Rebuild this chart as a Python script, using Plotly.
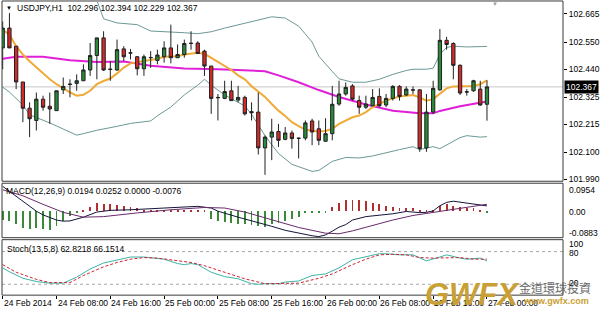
import plotly.graph_objects as go

W, H = 600, 313

# ---------------- data ----------------
hours = list(range(73))  # hourly bars from 24 Feb 2014 00:00
opens = [102.526, 102.607, 102.533, 102.387, 102.280, 102.230, 102.317, 102.288, 102.270, 102.355,
         102.377, 102.381, 102.392, 102.436, 102.495, 102.567, 102.440, 102.436, 102.522, 102.506,
         102.490, 102.441, 102.486, 102.475, 102.490, 102.526, 102.486, 102.499, 102.544, 102.546,
         102.513, 102.452, 102.324, 102.320, 102.351, 102.313, 102.324, 102.266, 102.264, 102.118,
         102.162, 102.185, 102.153, 102.179, 102.158, 102.158, 102.228, 102.196, 102.145, 102.176,
         102.297, 102.338, 102.371, 102.311, 102.284, 102.290, 102.328, 102.293, 102.320, 102.369,
         102.334, 102.355, 102.355, 102.118, 102.264, 102.355, 102.557, 102.544, 102.455, 102.347,
         102.351, 102.358, 102.296]
highs = [102.634, 102.668, 102.533, 102.387, 102.304, 102.344, 102.331, 102.344, 102.351, 102.405,
         102.398, 102.418, 102.459, 102.546, 102.567, 102.594, 102.472, 102.560, 102.533, 102.522,
         102.493, 102.499, 102.513, 102.519, 102.553, 102.621, 102.540, 102.560, 102.594, 102.553,
         102.519, 102.452, 102.338, 102.392, 102.392, 102.371, 102.331, 102.304, 102.344, 102.169,
         102.237, 102.216, 102.203, 102.189, 102.159, 102.230, 102.237, 102.230, 102.239, 102.371,
         102.392, 102.385, 102.378, 102.331, 102.331, 102.358, 102.361, 102.338, 102.374, 102.374,
         102.369, 102.369, 102.356, 102.338, 102.392, 102.603, 102.571, 102.549, 102.459, 102.358,
         102.396, 102.392, 102.394]
lows = [102.439, 102.526, 102.358, 102.223, 102.162, 102.189, 102.270, 102.216, 102.270, 102.338,
        102.324, 102.351, 102.392, 102.412, 102.398, 102.432, 102.392, 102.432, 102.472, 102.479,
        102.414, 102.412, 102.445, 102.459, 102.466, 102.463, 102.486, 102.486, 102.519, 102.503,
        102.412, 102.257, 102.230, 102.317, 102.311, 102.304, 102.250, 102.230, 102.091, 102.008,
        102.068, 102.122, 102.149, 102.115, 102.075, 102.149, 102.129, 102.129, 102.145, 102.149,
        102.290, 102.331, 102.311, 102.257, 102.277, 102.290, 102.284, 102.284, 102.311, 102.311,
        102.331, 102.338, 102.102, 102.102, 102.257, 102.351, 102.519, 102.398, 102.334, 102.331,
        102.347, 102.290, 102.229]
closes = [102.607, 102.526, 102.387, 102.280, 102.237, 102.317, 102.284, 102.277, 102.351, 102.369,
          102.378, 102.392, 102.436, 102.495, 102.567, 102.436, 102.438, 102.519, 102.490, 102.505,
          102.441, 102.490, 102.487, 102.497, 102.526, 102.486, 102.499, 102.544, 102.545, 102.503,
          102.452, 102.320, 102.323, 102.348, 102.311, 102.324, 102.257, 102.262, 102.118, 102.162,
          102.183, 102.149, 102.179, 102.156, 102.157, 102.220, 102.183, 102.149, 102.176, 102.296,
          102.338, 102.365, 102.317, 102.284, 102.297, 102.324, 102.290, 102.320, 102.369, 102.328,
          102.358, 102.354, 102.115, 102.264, 102.361, 102.557, 102.540, 102.455, 102.342, 102.346,
          102.392, 102.293, 102.367]

ma_fast = [102.600, 102.580, 102.533, 102.499, 102.472, 102.446, 102.422, 102.398, 102.378, 102.361,
           102.345, 102.331, 102.335, 102.351, 102.378, 102.391, 102.401, 102.422, 102.446, 102.463,
           102.468, 102.472, 102.479, 102.482, 102.490, 102.490, 102.492, 102.499, 102.503, 102.506,
           102.502, 102.486, 102.468, 102.452, 102.436, 102.414, 102.398, 102.370, 102.346, 102.326,
           102.297, 102.270, 102.248, 102.223, 102.207, 102.193, 102.188, 102.185, 102.187, 102.196,
           102.216, 102.230, 102.243, 102.250, 102.264, 102.284, 102.297, 102.311, 102.320, 102.328,
           102.331, 102.334, 102.324, 102.311, 102.317, 102.338, 102.361, 102.369, 102.369, 102.369,
           102.371, 102.378, 102.394]

ma_slow_x = [0, 2, 6, 10, 14, 18, 22, 25, 27, 32, 36, 39, 41, 44, 47, 50, 54, 58, 62, 64, 65, 68, 72]
ma_slow = [102.482, 102.490, 102.490, 102.476, 102.469, 102.471, 102.453, 102.446, 102.442, 102.439,
           102.433, 102.431, 102.414, 102.386, 102.354, 102.326, 102.295, 102.270, 102.259, 102.259,
           102.269, 102.288, 102.307]

bb_up_x = [14, 15, 17, 20, 22, 25, 27, 29, 31, 33, 36, 38, 40, 42, 44, 46, 47, 49, 50, 52, 54, 56, 58,
           60, 61, 63, 64, 65, 66, 67, 69, 72]
bb_up = [102.720, 102.645, 102.628, 102.621, 102.595, 102.592, 102.588, 102.584, 102.592, 102.607,
         102.627, 102.642, 102.653, 102.648, 102.615, 102.550, 102.492, 102.430, 102.400, 102.386,
         102.386, 102.398, 102.418, 102.434, 102.439, 102.439, 102.443, 102.500, 102.528, 102.533,
         102.530, 102.532]
bb_lo_x = [0, 1, 3, 4, 7, 10, 11, 12, 14, 17, 19, 22, 23, 25, 27, 29, 30, 31, 33, 36, 37, 39, 41, 43,
           46, 47, 49, 51, 53, 55, 57, 59, 61, 62, 64, 65, 68, 69, 71, 72]
bb_lo = [102.366, 102.346, 102.293, 102.253, 102.220, 102.180, 102.170, 102.176, 102.190, 102.206,
         102.218, 102.228, 102.249, 102.285, 102.334, 102.374, 102.398, 102.374, 102.334, 102.289,
         102.255, 102.168, 102.095, 102.051, 102.022, 102.026, 102.063, 102.079, 102.077, 102.085,
         102.099, 102.111, 102.123, 102.111, 102.123, 102.115, 102.160, 102.168, 102.162, 102.164]

macd_x = [0, 3, 5, 6, 8, 9, 10, 12, 14, 16, 19, 24, 29, 31, 32, 35, 37, 40, 42, 44, 46, 47, 48, 49,
          50, 51, 52, 54, 56, 58, 60, 62, 63, 64, 65, 66, 67, 69, 71, 72]
macd_main = [0.088, 0.035, 0.001, -0.012, -0.030, -0.034, -0.033, -0.020, -0.002, 0.004, 0.006, 0.012,
             0.018, 0.012, 0.001, -0.020, -0.032, -0.052, -0.066, -0.076, -0.085, -0.088, -0.082,
             -0.069, -0.055, -0.046, -0.030, -0.018, -0.013, -0.008, 0.000, -0.004, -0.003, 0.002,
             0.020, 0.032, 0.036, 0.030, 0.024, 0.0194]
sig_x = [0, 3, 6, 9, 12, 15, 20, 25, 30, 33, 36, 40, 44, 48, 50, 52, 55, 58, 61, 64, 67, 70, 72]
macd_signal = [0.076, 0.055, 0.025, -0.003, -0.020, -0.018, -0.005, 0.006, 0.014, 0.012, -0.002, -0.030,
               -0.056, -0.076, -0.078, -0.068, -0.048, -0.030, -0.014, -0.004, 0.008, 0.018, 0.0252]
macd_hist = [-0.032, -0.034, -0.043, -0.057, -0.063, -0.057, -0.063, -0.067, -0.052, -0.034,
             -0.017, -0.003, 0.003, 0.014, 0.030, 0.026, 0.024, 0.021, 0.018, 0.014,
             0.010, 0.006, 0.003, 0.003, 0.003, 0.003, 0.003, 0.003, 0.003, 0.003,
             0.003, -0.028, -0.034, -0.036, -0.040, -0.046, -0.046, -0.048, -0.052, -0.055,
             -0.043, -0.040, -0.034, -0.028, -0.020, -0.003, -0.003, -0.003, -0.003, 0.014,
             0.030, 0.038, 0.040, 0.038, 0.035, 0.030, 0.024, 0.018, 0.014, 0.012,
             0.010, 0.010, 0.003, 0.003, 0.003, 0.018, 0.026, 0.018, 0.014, 0.012,
             0.010, 0.003, -0.003]

stk_x = [0, 1, 3, 5, 7, 9, 11, 13, 15, 16, 18, 19, 21, 23, 24, 26, 27, 28, 29, 31, 33, 35, 37, 38, 39,
         41, 42, 44, 46, 48, 50, 52, 54, 56, 57, 59, 61, 63, 65, 66, 68, 69, 71, 72]
stoch_main = [50, 43, 31, 25, 22, 22, 33, 48, 59, 62, 67, 70, 70, 67, 66, 58, 56, 58, 56, 42, 34, 30, 21,
              20, 21, 21, 24, 26, 36, 39, 50, 65, 70, 76, 76, 74, 74, 63, 70, 74, 68, 66, 68, 62.8218]
sts_x = [0, 2, 5, 7, 10, 12, 15, 17, 19, 21, 23, 26, 28, 30, 33, 36, 39, 41, 44, 47, 49, 52, 54, 56, 58,
         60, 62, 64, 66, 68, 70, 72]
stoch_signal = [56, 42, 29, 23, 23, 36, 52, 60, 66, 69, 68, 63, 60, 54, 42, 30, 21, 21, 22, 31, 39, 56,
                66, 74, 75, 74, 69, 68, 69, 69, 66, 66.1514]
stoch_levels = [80, 20]

price_ticks = [101.990, 102.100, 102.215, 102.325, 102.440, 102.550, 102.665]
last_price = 102.367
time_ticks = [0, 8, 16, 24, 32, 40, 48, 56, 64, 72]
time_labels = ["24 Feb 2014", "24 Feb 08:00", "24 Feb 16:00", "25 Feb 00:00", "25 Feb 08:00",
               "25 Feb 16:00", "26 Feb 00:00", "26 Feb 08:00", "26 Feb 16:00", "27 Feb 00:00"]

# ---------------- layout helpers ----------------
FONT = "Liberation Sans, Arial, sans-serif"
FS = 8.5


def fx(px):
    return px / W


def fy(py):
    return 1 - py / H


PLOT_L, PLOT_R = 2, 563
PX_PER_BAR = 6.726
X0 = 2.7
xr = [(PLOT_L - X0) / PX_PER_BAR, (PLOT_R - X0) / PX_PER_BAR]

fig = go.Figure()

# main-panel lines (base subplot); candles on an overlay so they sit on top
fig.add_trace(go.Scatter(x=bb_up_x, y=bb_up, mode="lines", line=dict(color="#6b9896", width=1),
                         xaxis="x", yaxis="y", hoverinfo="skip"))
fig.add_trace(go.Scatter(x=bb_lo_x, y=bb_lo, mode="lines", line=dict(color="#6b9896", width=1),
                         xaxis="x", yaxis="y", hoverinfo="skip"))
fig.add_trace(go.Scatter(x=ma_slow_x, y=ma_slow, mode="lines", line=dict(color="#e020d8", width=2),
                         xaxis="x", yaxis="y", hoverinfo="skip"))
fig.add_trace(go.Scatter(x=hours, y=ma_fast, mode="lines", line=dict(color="#f0aa38", width=2),
                         xaxis="x", yaxis="y", hoverinfo="skip"))

fig.add_trace(go.Candlestick(
    x=hours, open=opens, high=highs, low=lows, close=closes,
    increasing=dict(line=dict(color="#202020", width=1), fillcolor="#2a8a3a"),
    decreasing=dict(line=dict(color="#202020", width=1), fillcolor="#d42a2a"),
    whiskerwidth=0, xaxis="x", yaxis="y4", hoverinfo="skip"))

# MACD panel
fig.add_trace(go.Bar(x=hours, y=macd_hist, width=0.13,
                     marker=dict(color=["#b03030" if v > 0 else "#3a8a3a" for v in macd_hist],
                                 line=dict(width=0)),
                     xaxis="x", yaxis="y2", hoverinfo="skip"))
fig.add_trace(go.Scatter(x=macd_x, y=macd_main, mode="lines", line=dict(color="#14143a", width=1),
                         xaxis="x", yaxis="y2", hoverinfo="skip"))
fig.add_trace(go.Scatter(x=sig_x, y=macd_signal, mode="lines", line=dict(color="#6a2a6a", width=1),
                         xaxis="x", yaxis="y2", hoverinfo="skip"))

# Stochastic panel
fig.add_trace(go.Scatter(x=stk_x, y=stoch_main, mode="lines", line=dict(color="#3cb4a8", width=1),
                         xaxis="x", yaxis="y3", hoverinfo="skip"))
fig.add_trace(go.Scatter(x=sts_x, y=stoch_signal, mode="lines",
                         line=dict(color="#d02030", width=1, dash="3px,2px"),
                         xaxis="x", yaxis="y3", hoverinfo="skip"))

main_range = [101.9819, 102.7135]
axis_common = dict(showgrid=False, zeroline=False, fixedrange=True)

fig.update_layout(
    width=W, height=H, margin=dict(l=0, r=0, t=0, b=0),
    paper_bgcolor="white", plot_bgcolor="white", showlegend=False,
    font=dict(family=FONT, size=FS, color="black"),
    xaxis=dict(domain=[fx(PLOT_L), fx(PLOT_R)], range=xr, anchor="y3",
               tickvals=time_ticks, ticktext=[""] * len(time_ticks), ticks="outside",
               ticklen=3, tickcolor="#000", showline=False, rangeslider=dict(visible=False),
               **axis_common),
    yaxis=dict(domain=[fy(183), fy(2)], range=main_range, anchor="x", side="right",
               tickvals=price_ticks, ticktext=["%.3f" % v for v in price_ticks],
               ticks="outside", ticklen=3, tickcolor="#000", showline=False, **axis_common),
    yaxis4=dict(range=main_range, overlaying="y", anchor="x", side="right", showticklabels=False,
                ticks="", **axis_common),
    yaxis2=dict(domain=[fy(240), fy(185)], range=[-0.0918, 0.0989], anchor="x", side="right",
                showticklabels=False, ticks="", **axis_common),
    yaxis3=dict(domain=[fy(298), fy(243)], range=[0, 100], anchor="x", side="right",
                showticklabels=False, ticks="", **axis_common),
    bargap=0,
)

shapes = []
# current price line
shapes.append(dict(type="line", xref="paper", yref="y", x0=fx(PLOT_L), x1=fx(PLOT_R),
                   y0=last_price, y1=last_price, line=dict(color="#c8c8c8", width=1), layer="below"))
# stochastic levels
for lv in stoch_levels:
    shapes.append(dict(type="line", xref="paper", yref="y3", x0=fx(PLOT_L), x1=fx(PLOT_R),
                       y0=lv, y1=lv, line=dict(color="#a8a8a8", width=1, dash="3px,3px"), layer="below"))
# panel frames
for top, bot in [(1, 183), (185, 240), (242, 298)]:
    shapes.append(dict(type="rect", xref="paper", yref="paper", x0=fx(PLOT_L), x1=fx(PLOT_R),
                       y0=fy(bot), y1=fy(top), line=dict(color="#3a3a3a", width=1)))
fig.update_layout(shapes=shapes)

ann = []


def label(px, py, text, xanchor="left", yanchor="middle", **kw):
    ann.append(dict(x=fx(px), y=fy(py), xref="paper", yref="paper", text=text, showarrow=False,
                    xanchor=xanchor, yanchor=yanchor, **kw))


# header texts
label(4, 8, "▼", font=dict(size=6, color="#000"))
label(15, 8, "USDJPY,H1  %.3f %.3f %.3f %.3f" % (opens[-1], highs[-1], lows[-1], closes[-1]))
label(4, 193, "MACD(12,26,9) 0.0194 0.0252 0.0000 -0.0076")
label(5, 251, "Stoch(13,5,8) %.4f %.4f" % (stoch_main[-1], stoch_signal[-1]))
# current price box
ann.append(dict(x=fx(564), y=last_price, xref="paper", yref="y", text="%.3f" % last_price,
                showarrow=False, xanchor="left", yanchor="middle", bgcolor="#000",
                font=dict(color="white"), borderpad=1))
# chart shift marker
label(495, 4, "▼", xanchor="center", font=dict(size=6, color="#a0a0a0"))
# sub-window scale labels
for txt, py in [("0.0954", 191.5), ("0.00", 214), ("-0.0883", 235.5), ("100", 246), ("80", 255.5), ("20", 286)]:
    label(567, py, txt)
# time labels
for t, lab in zip(time_ticks, time_labels):
    ann.append(dict(x=t, y=fy(306), xref="x", yref="paper", text=lab, showarrow=False,
                    xanchor="left", yanchor="middle", xshift=-1))
# watermark logo
label(472, 297, "<b><i>GWFX</i></b>", xanchor="center",
      font=dict(size=31, color="#c9a035", family="Liberation Sans"))
label(555, 290, "金道環球投資", xanchor="center",
      font=dict(size=12, color="#6a6a6a", family="Noto Sans CJK TC"))
label(556, 304, "<b>www.gwfx.com</b>", xanchor="center", font=dict(size=9, color="#c9a035"))
fig.update_layout(annotations=ann)

fig.write_html("out.html")
